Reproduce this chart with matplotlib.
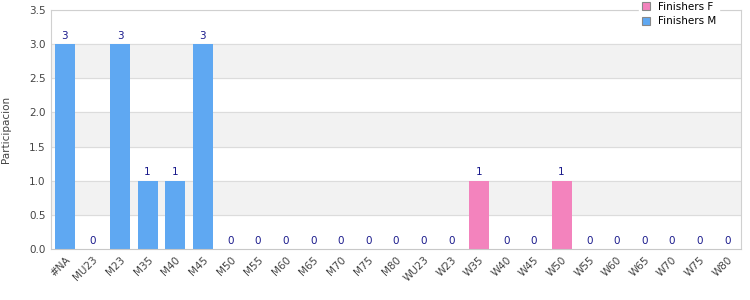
import matplotlib.pyplot as plt
import numpy as np

categories = ["#NA", "MU23", "M23", "M35", "M40", "M45", "M50", "M55", "M60", "M65",
              "M70", "M75", "M80", "WU23", "W23", "W35", "W40", "W45", "W50", "W55",
              "W60", "W65", "W70", "W75", "W80"]
nan = np.nan
finishers_m = [3, 0, 3, 1, 1, 3, 0, 0, 0, 0, 0, 0, 0,
               nan, nan, nan, nan, nan, nan, nan, nan, nan, nan, nan, nan]
finishers_f = [nan] * 13 + [0, 0, 1, 0, 0, 1, 0, 0, 0, 0, 0, 0]

color_f = "#f383bd"
color_m = "#5fa8f2"
label_color = "#1a1a8c"

fig = plt.figure(figsize=(7.5, 3), dpi=100)
ax = fig.add_axes([0.068, 0.17, 0.92, 0.797])

x = np.arange(len(categories))
m = np.array(finishers_m, dtype=float)
f = np.array(finishers_f, dtype=float)

# alternating background bands
for lo in [0.5, 1.5, 2.5]:
    ax.axhspan(lo, lo + 0.5, color="#f2f2f2", zorder=0)
for yv in np.arange(0.5, 3.6, 0.5):
    ax.axhline(yv, color="#dcdcdc", lw=0.8, zorder=0.5)

ax.bar(x, f, width=0.72, color=color_f, label="Finishers F", zorder=2)
ax.bar(x, m, width=0.72, color=color_m, label="Finishers M", zorder=2)

for xi, v in zip(x, m):
    if not np.isnan(v):
        ax.text(xi, v + 0.05, "%d" % v, ha="center", va="bottom", fontsize=7.5, color=label_color)
for xi, v in zip(x, f):
    if not np.isnan(v):
        ax.text(xi, v + 0.05, "%d" % v, ha="center", va="bottom", fontsize=7.5, color=label_color)

ax.set_xlim(-0.5, len(categories) - 0.5)
ax.set_ylim(0, 3.5)
ax.set_yticks(np.arange(0, 3.6, 0.5))
ax.set_yticklabels(["%.1f" % t for t in np.arange(0, 3.6, 0.5)])
ax.set_xticks(x)
ax.set_xticklabels(categories, rotation=45, ha="right", rotation_mode="anchor")
ax.tick_params(axis="both", length=0, labelsize=7.5, colors="#444444", pad=4)
ax.set_ylabel("Participacion", fontsize=7.5, color="#444444")
ax.yaxis.set_label_coords(-0.058, 0.5)

for s in ax.spines.values():
    s.set_color("#d0d0d0")
    s.set_linewidth(0.8)
ax.spines["bottom"].set_color("#c8c8c8")

leg = ax.legend(loc="upper right", bbox_to_anchor=(0.975, 1.065), fontsize=7.5,
                frameon=True, handlelength=0.8, handleheight=0.8,
                borderpad=0.2, labelspacing=0.45, handletextpad=0.8)
leg.get_frame().set_facecolor("white")
leg.get_frame().set_edgecolor("white")
leg.get_frame().set_alpha(1)
for h in leg.legend_handles:
    h.set_edgecolor("#888888")
    h.set_linewidth(0.8)

fig.savefig("out.png", dpi=100)
